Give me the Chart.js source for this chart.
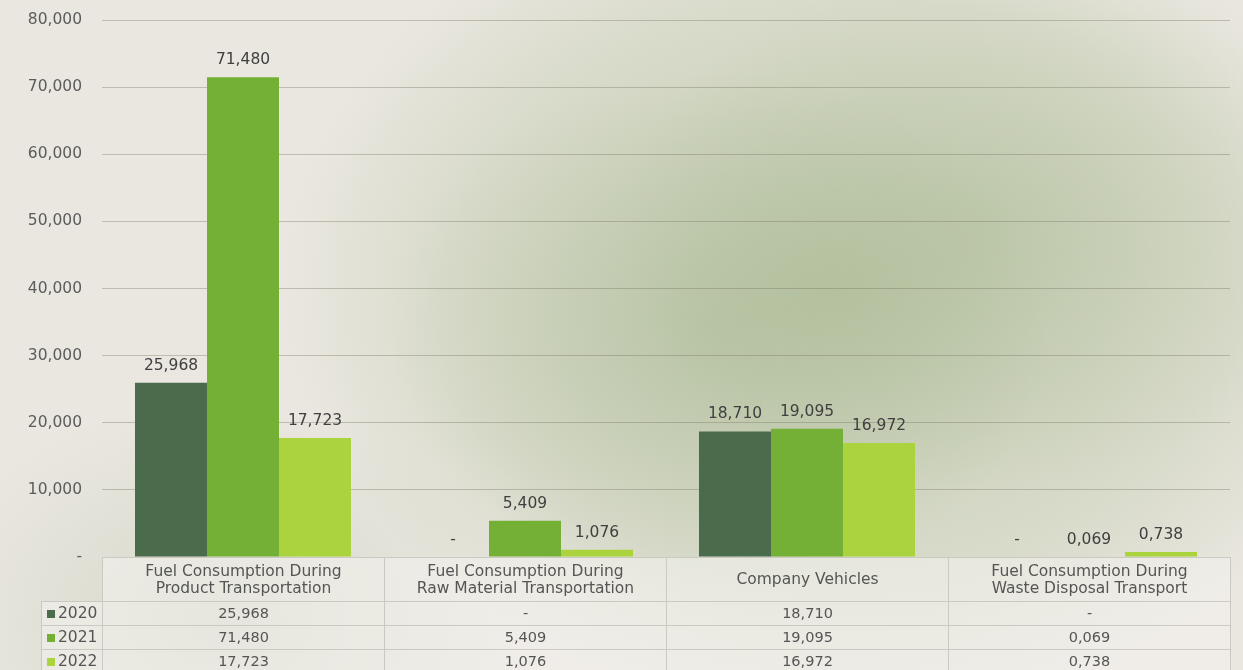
<!DOCTYPE html>
<html>
<head>
<meta charset="utf-8">
<script src="https://cdn.jsdelivr.net/npm/chart.js@4/dist/chart.umd.min.js"></script>
<style>
  html, body { margin: 0; padding: 0; }
  body {
    width: 1243px; height: 670px; overflow: hidden; position: relative;
    background-color: #eae7e0;
    background-image:
      radial-gradient(ellipse 330px 260px at 720px 330px, rgba(160,178,135,0.40), rgba(160,178,135,0) 100%),
      radial-gradient(ellipse 360px 260px at 980px 230px, rgba(165,182,140,0.38), rgba(165,182,140,0) 100%),
      radial-gradient(ellipse 560px 420px at 840px 290px, rgba(185,197,165,0.85), rgba(185,197,165,0.35) 70%, rgba(185,197,165,0) 100%),
      radial-gradient(ellipse 300px 220px at 220px 620px, rgba(195,202,182,0.5), rgba(195,202,182,0) 100%);
    font-family: "DejaVu Sans", sans-serif;
  }
  #wrap { position: absolute; left: 0; top: 0; width: 1243px; height: 670px; }
  #tbl { position: absolute; left: 0; top: 0; }
  .cell {
    position: absolute; box-sizing: border-box;
    border: 1px solid #cbc9c1;
    background: rgba(244,243,238,0.55);
    color: #555; font-size: 14.5px; line-height: 17px;
    display: flex; align-items: center; justify-content: center; text-align: center;
    white-space: nowrap;
  }
  .head { font-size: 15.5px; line-height: 17px; }
  .rowhead { justify-content: flex-start; padding-left: 5px; font-size: 15.5px; }
  .sw { display: inline-block; width: 8px; height: 8px; margin-right: 3px; }
</style>
</head>
<body>
<div id="wrap"><canvas id="c" width="1243" height="670"></canvas></div>
<div id="tbl"></div>
<script>
const categories = [
  ["Fuel Consumption During", "Product Transportation"],
  ["Fuel Consumption During", "Raw Material Transportation"],
  ["Company Vehicles"],
  ["Fuel Consumption During", "Waste Disposal Transport"]
];
const years = ["2020", "2021", "2022"];
const values2020 = [25968, 0, 18710, 0];
const values2021 = [71480, 5409, 19095, 69];
const values2022 = [17723, 1076, 16972, 738];
const yTicks = [0, 10000, 20000, 30000, 40000, 50000, 60000, 70000, 80000];
const colors = ["#4a6b4c", "#74b036", "#aad33d"];
const seriesValues = [values2020, values2021, values2022];

function fmt(v) {
  if (v === 0) return "-";
  if (v < 1000) return "0," + String(v).padStart(3, "0");
  return v.toLocaleString("en-US");
}

const FONT = '"DejaVu Sans", sans-serif';

const labelPlugin = {
  id: "valueLabels",
  afterDatasetsDraw(chart) {
    const ctx = chart.ctx;
    ctx.save();
    ctx.font = "15.5px " + FONT;
    ctx.fillStyle = "#404040";
    ctx.textAlign = "center";
    ctx.textBaseline = "middle";
    chart.data.datasets.forEach((ds, di) => {
      const meta = chart.getDatasetMeta(di);
      meta.data.forEach((el, i) => {
        ctx.fillText(fmt(ds.data[i]), el.x, el.y - 17);
      });
    });
    ctx.restore();
  }
};

const chart = new Chart(document.getElementById("c"), {
  type: "bar",
  data: {
    labels: categories,
    datasets: years.map((y, i) => ({
      label: y,
      data: seriesValues[i],
      backgroundColor: colors[i],
      borderWidth: 0,
      barPercentage: 1.0,
      categoryPercentage: 0.766
    }))
  },
  options: {
    responsive: false,
    animation: false,
    layout: { padding: { left: 0, right: 13, top: 20, bottom: 113 } },
    plugins: { legend: { display: false }, tooltip: { enabled: false } },
    scales: {
      x: { display: false },
      y: {
        min: 0, max: 80000,
        afterBuildTicks(scale) { scale.ticks = yTicks.map(v => ({ value: v })); },
        afterFit(scale) { scale.width = 102; scale.paddingTop = 0; scale.paddingBottom = 0; },
        border: { display: false },
        grid: { color: "rgba(120,116,100,0.38)", lineWidth: 1, drawTicks: false },
        ticks: {
          padding: 20,
          color: "#5c5c5c",
          font: { family: FONT, size: 15.5 },
          callback: v => fmt(v)
        }
      }
    }
  },
  plugins: [labelPlugin]
});

// build data table under the chart, aligned with the category scale
(function buildTable() {
  const tbl = document.getElementById("tbl");
  const xs = chart.scales.x;
  const area = chart.chartArea;
  const catW = (area.right - area.left) / categories.length;
  const top = area.bottom;
  const headH = 44, rowH = 24;
  const legendLeft = 41;
  function cell(x, y, w, h, html, cls) {
    const d = document.createElement("div");
    d.className = "cell" + (cls ? " " + cls : "");
    d.style.left = x + "px"; d.style.top = y + "px";
    d.style.width = w + "px"; d.style.height = h + "px";
    d.innerHTML = html;
    tbl.appendChild(d);
  }
  categories.forEach((c, i) => {
    const cx = xs.getPixelForValue(i);
    const x0 = cx - catW / 2;
    cell(x0, top, catW + 1, headH + 1, c.join("<br>"), "head");
    seriesValues.forEach((vals, r) => {
      cell(x0, top + headH + r * rowH, catW + 1, rowH + 1, fmt(vals[i]));
    });
  });
  years.forEach((y, r) => {
    cell(legendLeft, top + headH + r * rowH, area.left - legendLeft + 1, rowH + 1,
      '<span class="sw" style="background:' + colors[r] + '"></span>' + y, "rowhead");
  });
})();
</script>
</body>
</html>
